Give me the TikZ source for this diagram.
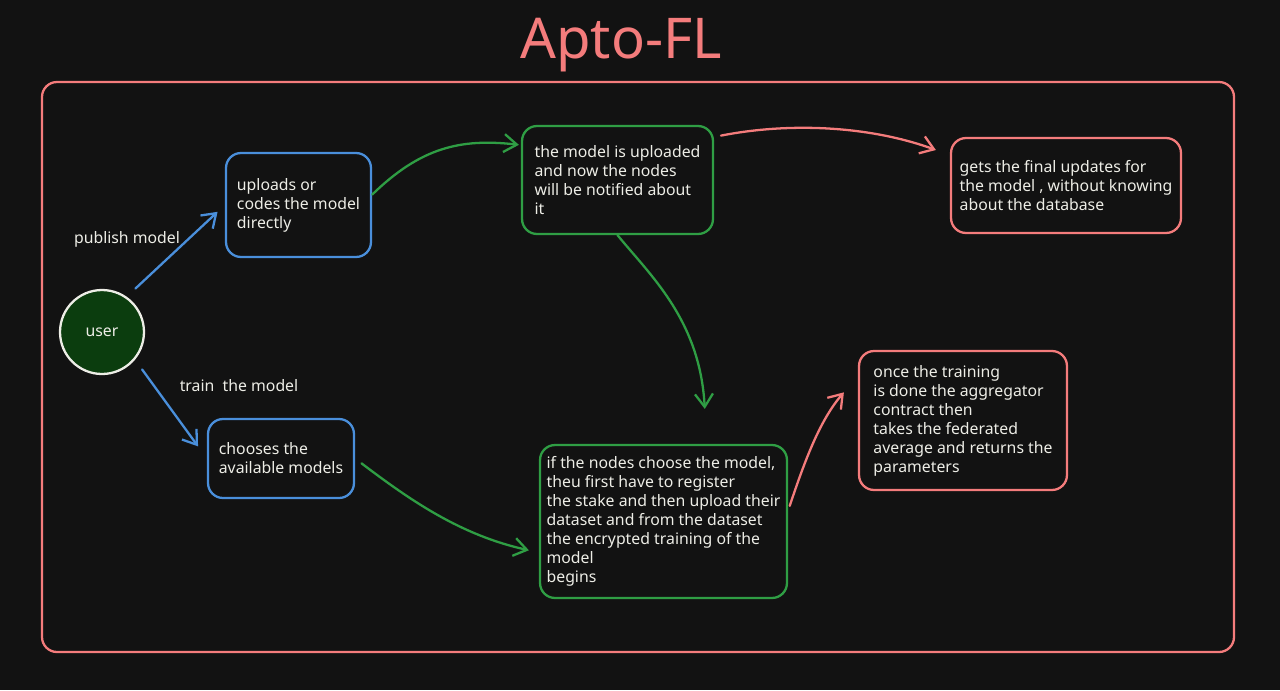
\documentclass[tikz,border=0pt]{standalone}
\usepackage{fontspec}
\setmainfont{Noto Sans}
\usetikzlibrary{arrows.meta}
\definecolor{bgdark}{HTML}{121212}
\definecolor{lineblue}{HTML}{4A8FDB}
\definecolor{linegreen}{HTML}{2F9E44}
\definecolor{linered}{HTML}{F47C7C}
\definecolor{inkwhite}{HTML}{EDEDE6}
\definecolor{userfill}{HTML}{0B3D0E}
\begin{document}
\begin{tikzpicture}[x=0.02cm, y=-0.02cm,
  box/.style={draw, rounded corners=0.3cm, line width=1.3pt, align=left, text=inkwhite, font=\fontsize{9}{10.8}\selectfont, inner sep=0pt},
  bluebox/.style={box, draw=lineblue},
  greenbox/.style={box, draw=linegreen},
  redbox/.style={box, draw=linered},
  label/.style={text=inkwhite, font=\fontsize{9}{10.8}\selectfont},
  link/.style={line width=1.3pt, line cap=round, -{Straight Barb[length=0.26cm, width=0.36cm, line width=1.3pt]}}]
\fill[bgdark] (0,0) rectangle (1280,690);
\node[text=linered, font=\fontsize{32}{36}\selectfont] (title) at (621,45) {Apto-FL};
\draw[linered, line width=1.3pt, rounded corners=0.3cm] (42,82) rectangle (1234,652);
% user and the two choices
\node[circle, draw=inkwhite, fill=userfill, line width=1.3pt, minimum size=1.68cm, text=inkwhite, font=\fontsize{9}{10.8}\selectfont] (user) at (102,332) {user};
\node[bluebox, minimum width=2.9cm, minimum height=2.08cm] (upload) at (298.5,205) {uploads or\\codes the model\\directly};
\node[bluebox, minimum width=2.92cm, minimum height=1.58cm] (choose) at (281,458.5) {chooses the\\available models};
\node[label] (publish) at (127,239) {publish model};
\node[label] (train) at (239,386) {train\ \ the model};
% model flow
\node[greenbox, minimum width=3.82cm, minimum height=2.16cm] (notify) at (617.5,180) {the model is uploaded\\and now the nodes\\will be notified about\\it};
\node[redbox, minimum width=4.6cm, minimum height=1.9cm] (final) at (1066,185.5) {gets the final updates for\\the model , without knowing\\about the database};
\node[greenbox, minimum width=4.94cm, minimum height=3.06cm] (stake) at (663.5,521.5) {if the nodes choose the model,\\theu first have to register\\the stake and then upload their\\dataset and from the dataset\\the encrypted training of the\\model\\begins};
\node[redbox, minimum width=4.16cm, minimum height=2.78cm] (aggr) at (963,420.5) {once the training\\is done the aggregator\\contract then\\takes the federated\\average and returns the\\parameters};
% connectors
\draw[link, lineblue, shorten <=0.24cm, shorten >=0.2cm] (user.55) -- (upload.west);
\draw[link, lineblue, shorten <=0.24cm, shorten >=0.3cm] (user.-40) -- (choose.west);
\draw[link, linegreen] (upload.8) .. controls (420,148) and (460,138) .. ([xshift=-0.04cm]notify.160);
\draw[link, linegreen, shorten <=0.16cm] (choose.east) .. controls (410,500) and (460,535) .. ([xshift=-0.2cm]stake.193);
\draw[link, linegreen] (notify.south) .. controls (650,275) and (700,320) .. ([yshift=0.7cm]stake.62);
\draw[link, linered, shorten <=0.14cm] (notify.24) .. controls (790,122) and (870,126) .. ([xshift=-0.28cm]final.163);
\draw[link, linered, shorten <=0.1cm] (stake.5) .. controls (805,460) and (820,420) .. ([xshift=-0.28cm]aggr.165);
\end{tikzpicture}
\end{document}
